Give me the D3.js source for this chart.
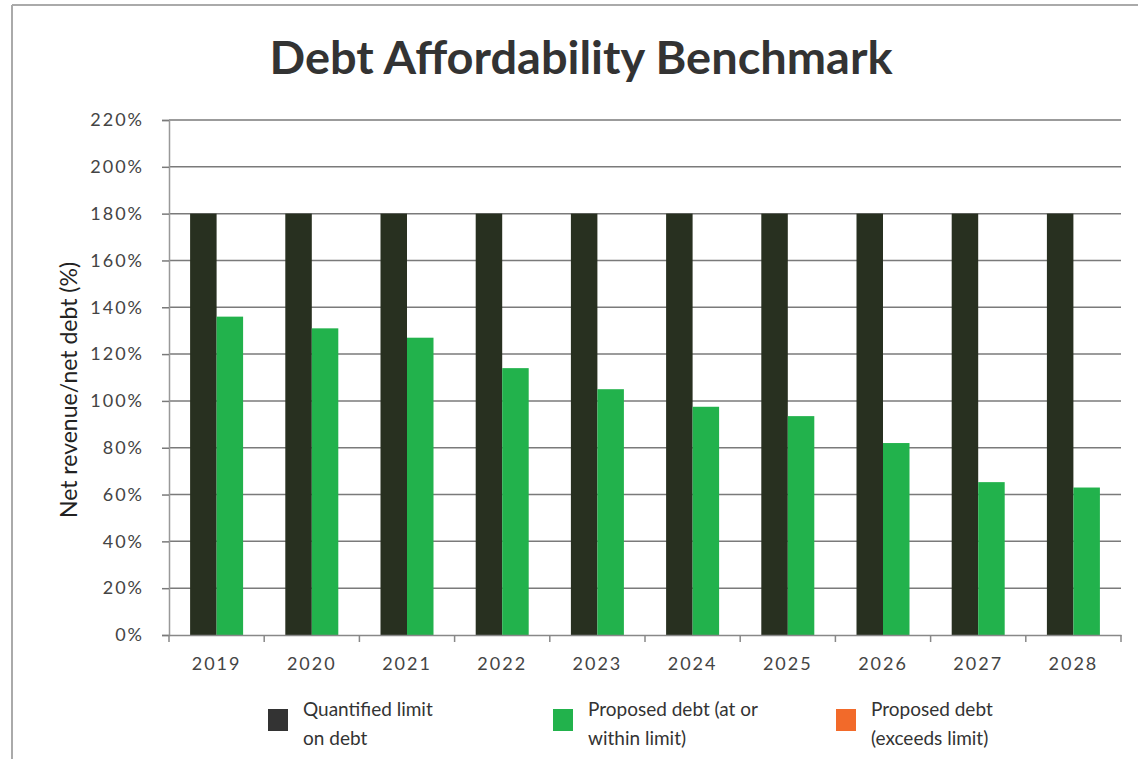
<!DOCTYPE html>
<html>
<head>
<meta charset="utf-8">
<script src="https://cdn.jsdelivr.net/npm/d3@7"></script>
<style>
  body { margin: 0; background: #fff; }
  svg { display: block; }
  text { font-family: Lato, "Open Sans", sans-serif; fill: #333; }
</style>
</head>
<body>
<div id="chart"></div>
<script>
// data
var years = ['2019', '2020', '2021', '2022', '2023', '2024', '2025', '2026', '2027', '2028'];
var limitValues = [180, 180, 180, 180, 180, 180, 180, 180, 180, 180];
var proposedValues = [136, 131, 127, 114, 105, 97.5, 93.5, 82, 65.3, 63];
var yTicks = [0, 20, 40, 60, 80, 100, 120, 140, 160, 180, 200, 220];
var legendItems = [
  { lines: ['Quantified limit', 'on debt'], color: '#333333' },
  { lines: ['Proposed debt (at or', 'within limit)'], color: '#22b24c' },
  { lines: ['Proposed debt', '(exceeds limit)'], color: '#f26a2a' }
];

var width = 1138, height = 759;
var margin = { left: 169, right: 17, top: 120, bottom: 124 };

var svg = d3.select('#chart').append('svg')
  .attr('width', width)
  .attr('height', height);

// faint frame of the scanned page
svg.append('line').attr('x1', 12).attr('x2', width).attr('y1', 5).attr('y2', 5)
  .style('stroke', '#aaa').style('stroke-width', 2);
svg.append('line').attr('x1', 12).attr('x2', 12).attr('y1', 5).attr('y2', height)
  .style('stroke', '#aaa').style('stroke-width', 2);

var x = d3.scaleBand()
  .domain(years)
  .range([margin.left, width - margin.right]);

var y = d3.scaleLinear()
  .domain([0, 220])
  .range([height - margin.bottom, margin.top]);

// title
svg.append('text')
  .attr('x', 581)
  .attr('y', 74)
  .attr('text-anchor', 'middle')
  .attr('textLength', 623)
  .attr('lengthAdjust', 'spacingAndGlyphs')
  .style('font-size', '46px')
  .style('font-weight', 'bold')
  .style('fill', '#333')
  .text('Debt Affordability Benchmark');

// gridlines
svg.append('g')
  .selectAll('line')
  .data(yTicks.slice(1))
  .enter().append('line')
  .attr('x1', margin.left)
  .attr('x2', width - margin.right)
  .attr('y1', function(d) { return y(d); })
  .attr('y2', function(d) { return y(d); })
  .style('stroke', '#7a7a7a')
  .style('stroke-width', 1.5);

// y axis
var yAxis = svg.append('g')
  .attr('transform', 'translate(' + margin.left + ',0)')
  .call(d3.axisLeft(y).tickValues(yTicks).tickSize(7).tickPadding(18)
    .tickFormat(function(d) { return d + '%'; }));
yAxis.select('.domain').style('stroke', '#999').style('stroke-width', 1.5);
yAxis.selectAll('.tick line').style('stroke', '#7a7a7a').style('stroke-width', 1.5);
yAxis.selectAll('text')
  .style('font-size', '18px')
  .style('letter-spacing', '2px')
  .style('fill', '#444');

// bars
var barW = 26.5;
svg.append('g')
  .selectAll('rect')
  .data(years)
  .enter().append('rect')
  .attr('x', function(d) { return x(d) + x.bandwidth() / 2 - barW; })
  .attr('y', function(d, i) { return y(limitValues[i]); })
  .attr('width', barW)
  .attr('height', function(d, i) { return y(0) - y(limitValues[i]); })
  .style('fill', '#283020');

svg.append('g')
  .selectAll('rect')
  .data(years)
  .enter().append('rect')
  .attr('x', function(d) { return x(d) + x.bandwidth() / 2; })
  .attr('y', function(d, i) { return y(proposedValues[i]); })
  .attr('width', barW)
  .attr('height', function(d, i) { return y(0) - y(proposedValues[i]); })
  .style('fill', '#22b24c');

// x axis: ticks sit between the categories
var xAxis = svg.append('g')
  .attr('transform', 'translate(0,' + y(0) + ')')
  .call(d3.axisBottom(x).tickSize(0).tickPadding(22));
xAxis.select('.domain').style('stroke', '#888').style('stroke-width', 1.5);
xAxis.selectAll('text')
  .style('font-size', '18px')
  .style('letter-spacing', '2px')
  .style('fill', '#444');
xAxis.selectAll('.sep')
  .data(years.concat(['end']))
  .enter().append('line')
  .attr('class', 'sep')
  .attr('x1', function(d) { return d === 'end' ? x.range()[1] : x(d); })
  .attr('x2', function(d) { return d === 'end' ? x.range()[1] : x(d); })
  .attr('y1', 0)
  .attr('y2', 7)
  .style('stroke', '#888')
  .style('stroke-width', 1.5);

// y axis title
svg.append('text')
  .attr('transform', 'translate(77,390) rotate(-90)')
  .attr('text-anchor', 'middle')
  .style('font-size', '23px')
  .style('fill', '#222')
  .text('Net revenue/net debt (%)');

// legend
var legendX = [268, 553, 836];
var legend = svg.append('g')
  .selectAll('g')
  .data(legendItems)
  .enter().append('g')
  .attr('transform', function(d, i) { return 'translate(' + legendX[i] + ',709)'; });
legend.append('rect')
  .attr('width', 20)
  .attr('height', 22)
  .style('fill', function(d) { return d.color; });
legend.each(function(d) {
  var g = d3.select(this);
  d.lines.forEach(function(line, k) {
    g.append('text')
      .attr('x', 35)
      .attr('y', 7 + k * 29)
      .style('font-size', '19px')
      .style('fill', '#333')
      .text(line);
  });
});
</script>
</body>
</html>
